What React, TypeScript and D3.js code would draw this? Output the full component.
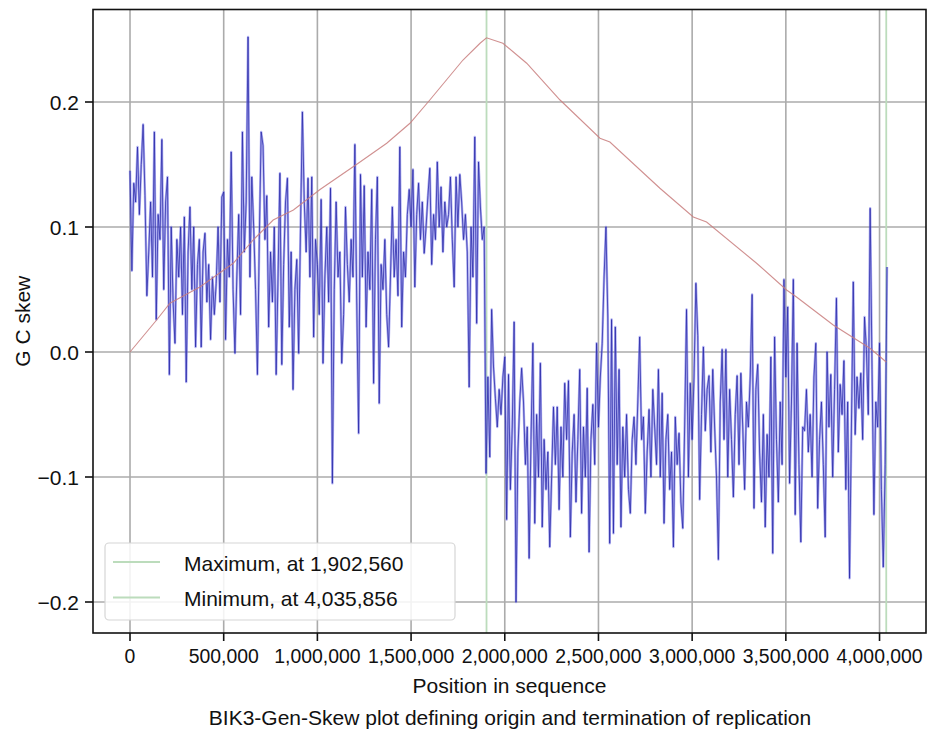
import React from "react";
import * as d3 from "d3";

const W = 927;
const H = 730;

// GC skew per 10,000 bp window
const windowStep = 10000;
const gcSkew: number[] = [
  0.145, 0.065, 0.135, 0.12, 0.164, 0.11, 0.15, 0.182, 0.125, 0.045,
  0.08, 0.12, 0.06, 0.176, 0.026, 0.11, 0.09, 0.17, 0.05, 0.12,
  0.14, -0.018, 0.1, 0.04, 0.007, 0.09, 0.06, 0.1, 0.03, 0.108,
  -0.024, 0.08, 0.116, 0.05, 0.1, 0.004, 0.07, 0.09, 0.004, 0.08,
  0.095, 0.04, 0.07, 0.01, 0.06, 0.03, 0.055, 0.1, 0.04, 0.124,
  0.128, 0.01, 0.09, 0.06, 0.16, 0.05, -0.001, 0.06, 0.11, 0.03,
  0.176, 0.08, 0.12, 0.252, 0.06, 0.14, 0.1, 0.05, -0.018, 0.09,
  0.176, 0.165, 0.09, 0.125, 0.02, 0.08, 0.04, 0.1, -0.018, 0.06,
  0.143, -0.01, 0.07, 0.12, 0.139, 0.02, 0.08, -0.03, 0.05, 0.074,
  -0.001, 0.1, 0.192, 0.12, 0.08, 0.139, 0.06, 0.14, 0.012, 0.09,
  0.07, 0.03, 0.122, -0.009, 0.06, 0.1, 0.04, 0.131, -0.105, 0.05,
  0.12, 0.06, 0.08, -0.009, 0.03, 0.116, 0.07, 0.04, 0.09, 0.06,
  0.166, 0.04, -0.065, 0.142, 0.06, 0.133, 0.02, 0.08, 0.05, 0.13,
  -0.025, 0.09, 0.14, -0.041, 0.07, 0.05, 0.09, 0.03, 0.004, 0.06,
  0.116, 0.06, 0.09, 0.045, 0.164, 0.02, 0.08, 0.06, 0.11, 0.13,
  0.1, 0.146, 0.052, 0.11, 0.135, 0.09, 0.12, 0.079, 0.1, 0.125,
  0.147, 0.07, 0.11, 0.09, 0.152, 0.1, 0.132, 0.08, 0.12, 0.1,
  0.11, 0.14, 0.09, 0.052, 0.14, 0.1, 0.142, 0.12, 0.09, 0.11,
  0.08, -0.028, 0.1, 0.06, 0.172, 0.023, 0.152, 0.116, 0.09, 0.1,
  -0.097, -0.02, -0.084, 0.034, -0.012, -0.037, -0.06, -0.03, -0.05, -0.02,
  -0.004, -0.134, -0.018, -0.11, -0.06, 0.024, -0.2, -0.08, -0.04, -0.013,
  -0.04, -0.09, -0.06, -0.165, -0.07, 0.007, -0.137, -0.05, -0.1, -0.009,
  -0.14, -0.07, -0.11, -0.08, -0.156, -0.1, -0.044, -0.09, -0.044, -0.126,
  -0.06, -0.1, -0.025, -0.07, -0.023, -0.148, -0.08, -0.05, -0.12, -0.07,
  -0.014, -0.129, -0.06, -0.1, -0.029, -0.16, -0.07, -0.042, -0.09, 0.007,
  -0.06, -0.02, 0.007, 0.06, 0.1, 0.028, -0.153, 0.026, -0.145, 0.02,
  -0.09, -0.014, -0.14, -0.06, -0.1, -0.05, -0.11, -0.129, -0.07, -0.052,
  -0.09, -0.04, 0.012, -0.07, -0.052, -0.129, -0.08, -0.046, -0.1, -0.03,
  -0.06, -0.09, -0.014, -0.1, -0.033, -0.137, -0.07, -0.05, -0.11, -0.08,
  -0.156, -0.052, -0.09, -0.065, -0.12, -0.141, -0.06, 0.034, -0.1, -0.025,
  -0.07, -0.02, 0.055, 0.013, -0.118, -0.05, 0.004, -0.063, -0.03, -0.019,
  -0.08, -0.014, -0.06, -0.1, -0.166, -0.04, 0.002, -0.07, 0.002, -0.1,
  -0.03, -0.07, -0.116, -0.05, -0.019, -0.09, -0.017, -0.06, -0.11, -0.04,
  -0.06, -0.02, 0.046, -0.125, -0.03, -0.01, -0.08, -0.12, -0.05, -0.14,
  -0.066, -0.1, -0.004, -0.161, 0.012, -0.07, -0.12, -0.04, -0.09, 0.058,
  -0.02, 0.036, -0.105, -0.04, 0.058, -0.13, 0.007, -0.09, -0.152, -0.06,
  -0.063, -0.03, -0.08, -0.05, -0.1, -0.02, 0.007, -0.125, -0.07, -0.04,
  -0.09, -0.148, 0.0, -0.06, -0.018, -0.1, -0.03, 0.043, -0.08, -0.026,
  -0.05, -0.007, -0.11, -0.04, -0.181, -0.06, 0.056, -0.066, -0.02, -0.045,
  -0.017, -0.07, 0.028, 0.002, -0.05, 0.115, -0.014, -0.13, -0.04, -0.06,
  0.007, -0.11, -0.172, -0.09, 0.068,
];

// Cumulative skew (red line)
const cumPos: number[] = [
  0, 142000, 213000, 373000, 551000, 657000, 764000, 872000, 1014000, 1218000,
  1370000, 1494000, 1600000, 1777000, 1868000, 1902560, 1990000, 2117000, 2295000,
  2508000, 2561000, 2828000, 3006000, 3077000, 3344000, 3504000, 3557000, 3753000,
  3949000, 4035856,
];
const cumVal: number[] = [
  0, 0.0256, 0.039, 0.052, 0.071, 0.0896, 0.1056, 0.1136, 0.13, 0.151,
  0.167, 0.183, 0.2016, 0.2336, 0.247, 0.2514, 0.247, 0.231, 0.2016,
  0.171, 0.168, 0.131, 0.108, 0.104, 0.071, 0.0496, 0.044, 0.0216,
  0.003, -0.008,
];

const markerPos: number[] = [1902560, 4035856];
const legendLabels: string[] = ["Maximum, at 1,902,560", "Minimum, at 4,035,856"];

const xTicks: number[] = [0, 500000, 1000000, 1500000, 2000000, 2500000, 3000000, 3500000, 4000000];
const yTicks: number[] = [-0.2, -0.1, 0.0, 0.1, 0.2];

const xLabel = "Position in sequence";
const yLabel = "G C skew";
const caption = "BIK3-Gen-Skew plot defining origin and termination of replication";

export default function App() {
  const left = 93, right = 926, top = 9.5, bottom = 633;
  const x = d3.scaleLinear().domain([-197500, 4248000]).range([left, right]);
  const y = d3.scaleLinear().domain([-0.2248, 0.274]).range([bottom, top]);

  const skewPts: [number, number][] = gcSkew.map((v, i) => [i * windowStep, v]);
  const line = d3.line<[number, number]>().x(d => x(d[0])).y(d => y(d[1]));
  const cumPts: [number, number][] = cumPos.map((p, i) => [p, cumVal[i]]);

  const fmtX = d3.format(",");
  const fmtY = (v: number) => d3.format(".1f")(v).replace("-", "\u2212");

  const font = "'Liberation Sans', Arial, sans-serif";
  const gridColor = "#ababab";
  const green = "#bcdcbc";

  return (
    <svg width={W} height={H} style={{ position: "absolute", left: 0, top: 0, background: "#fff" }} fontFamily={font}>
      <rect x={0} y={0} width={W} height={H} fill="#fff" />
      {/* grid */}
      {xTicks.map(t => (
        <line key={"gx" + t} x1={x(t)} x2={x(t)} y1={top} y2={bottom} stroke={gridColor} strokeWidth={1.6} />
      ))}
      {yTicks.map(t => (
        <line key={"gy" + t} x1={left} x2={right} y1={y(t)} y2={y(t)} stroke={gridColor} strokeWidth={1.6} />
      ))}
      {/* marker lines */}
      {markerPos.map(p => (
        <line key={"m" + p} x1={x(p)} x2={x(p)} y1={top} y2={bottom} stroke={green} strokeWidth={1.8} />
      ))}
      {/* skew: soft halo then darker core */}
      <path d={line(skewPts) || ""} fill="none" stroke="#6a6ae6" strokeWidth={2.4} strokeOpacity={0.55} strokeLinejoin="round" />
      <path d={line(skewPts) || ""} fill="none" stroke="#2a2aa8" strokeWidth={0.9} strokeOpacity={0.85} strokeLinejoin="round" />
      {/* cumulative */}
      <path d={line(cumPts) || ""} fill="none" stroke="#c87c7c" strokeWidth={1.1} strokeOpacity={0.85} />
      {/* frame */}
      <rect x={left} y={top} width={right - left} height={bottom - top} fill="none" stroke="#111" strokeWidth={1.6} />
      {/* x ticks */}
      {xTicks.map(t => (
        <g key={"tx" + t}>
          <line x1={x(t)} x2={x(t)} y1={bottom} y2={bottom + 8} stroke="#111" strokeWidth={1.6} />
          <text x={x(t)} y={656} textAnchor="middle" dominantBaseline="central" fontSize={19.4} fill="#111">
            {fmtX(t)}
          </text>
        </g>
      ))}
      {/* y ticks */}
      {yTicks.map(t => (
        <g key={"ty" + t}>
          <line x1={left - 8} x2={left} y1={y(t)} y2={y(t)} stroke="#111" strokeWidth={1.6} />
          <text x={79} y={y(t)} textAnchor="end" dominantBaseline="central" fontSize={21} fill="#111">
            {fmtY(t)}
          </text>
        </g>
      ))}
      {/* labels */}
      <text x={(left + right) / 2} y={685} textAnchor="middle" dominantBaseline="central" fontSize={21} fill="#111">
        {xLabel}
      </text>
      <text transform={`translate(22, ${(top + bottom) / 2}) rotate(-90)`} textAnchor="middle" dominantBaseline="central" fontSize={21} fill="#111">
        {yLabel}
      </text>
      <text x={510} y={717} textAnchor="middle" dominantBaseline="central" fontSize={21} fill="#111">
        {caption}
      </text>
      {/* legend */}
      <rect x={105} y={543} width={350} height={77} rx={4} fill="#fff" fillOpacity={0.85} stroke="#d6d6d6" strokeWidth={1.2} />
      {legendLabels.map((l, i) => (
        <g key={l}>
          <line x1={113} x2={160} y1={562 + i * 35.5} y2={562 + i * 35.5} stroke={green} strokeWidth={2} />
          <text x={184} y={563 + i * 35.5} dominantBaseline="central" fontSize={21} fill="#111">
            {l}
          </text>
        </g>
      ))}
    </svg>
  );
}
